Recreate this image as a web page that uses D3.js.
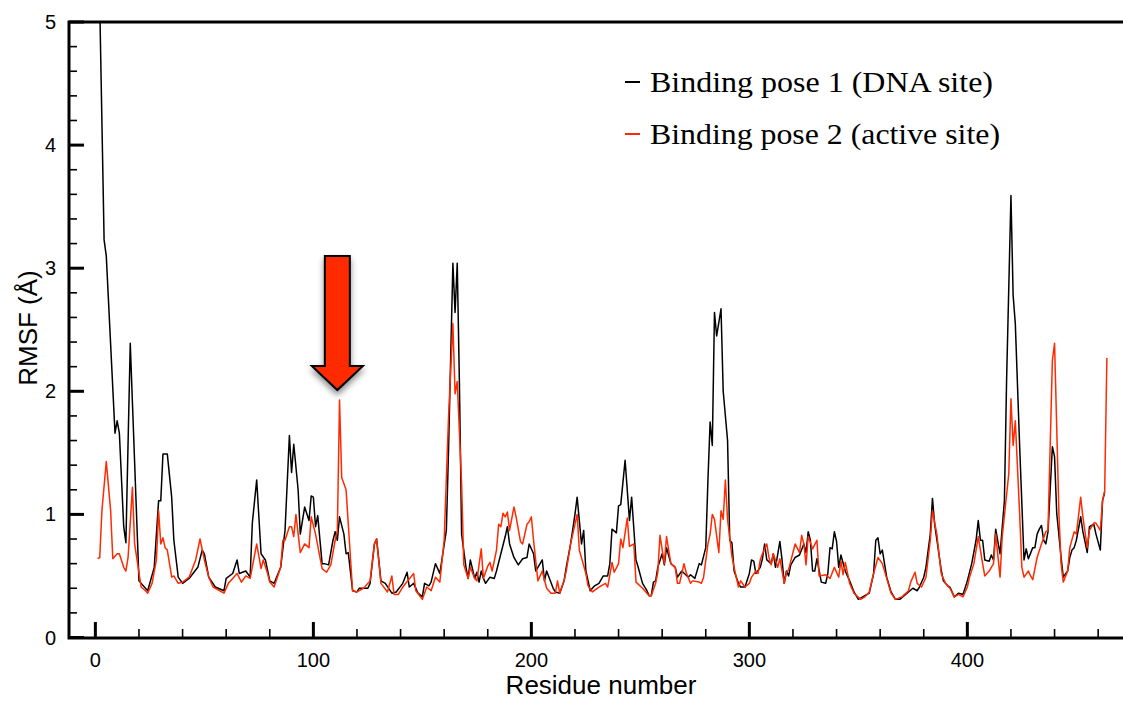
<!DOCTYPE html>
<html>
<head>
<meta charset="utf-8">
<script src="https://cdn.jsdelivr.net/npm/d3@7"></script>
<style>
  body { margin: 0; background: #fff; }
  svg { display: block; }
  .tickLabel { font-family: "Liberation Sans", Arial, sans-serif; font-size: 20px; fill: #000; }
  .axisTitle { font-family: "Liberation Sans", Arial, sans-serif; font-size: 26px; fill: #000; }
  .legendText { font-family: "Liberation Serif", "Times New Roman", serif; font-size: 29px; fill: #000; }
</style>
</head>
<body>
<div id="chart"></div>
<script>
// Residue numbers and RMSF values (Å)
var pose1Residue = [1,4,5,9,10,11,13,14,16,20,24,27,29,30,31,33,35,36,38,40,43,47,49,50,52,55,59,60,63,65,66,69,71,72,74,76,78,80,82,85,87,89,90,91,93,94,96,98,99,100,101,102,104,105,107,109,110,111,112,114,115,116,118,120,121,125,126,128,129,131,133,136,138,141,143,144,146,148,150,151,153,154,156,158,161,162,164,165,166,167,168,170,171,172,174,175,176,177,178,179,181,183,184,186,188,189,190,192,194,196,198,199,201,202,205,206,207,210,211,213,215,216,218,220,221,223,224,225,227,229,231,233,235,236,237,239,240,241,243,245,246,248,249,251,253,254,255,256,257,258,260,261,262,264,266,267,269,272,273,275,277,278,280,281,282,283,284,285,287,288,290,291,292,293,295,296,298,300,301,302,303,305,306,307,308,310,311,312,314,315,316,317,318,319,321,323,325,326,327,328,329,330,331,333,335,336,337,338,339,340,341,342,344,346,348,350,352,355,357,358,359,360,361,363,365,367,369,371,373,375,377,378,380,381,383,384,385,388,389,391,392,394,396,398,400,402,404,405,406,407,408,410,411,412,413,415,417,418,420,421,422,424,426,427,428,430,431,432,433,434,435,436,437,439,440,441,443,444,446,447,448,449,450,452,453,455,456,458,459,461,462,463];
var pose1Rmsf = [6.1,3.23,3.1,1.66,1.76,1.66,0.9,0.77,2.39,0.46,0.38,0.57,1.11,1.11,1.49,1.49,1.14,0.79,0.49,0.44,0.48,0.57,0.71,0.68,0.49,0.41,0.38,0.48,0.52,0.63,0.52,0.54,0.49,0.93,1.28,0.68,0.63,0.46,0.44,0.57,0.87,1.64,1.34,1.57,1.2,0.84,1.06,0.95,1.15,1.14,0.9,0.99,0.6,0.6,0.59,0.79,0.86,0.79,0.98,0.84,0.68,0.69,0.38,0.37,0.4,0.4,0.44,0.76,0.8,0.46,0.44,0.36,0.37,0.44,0.53,0.41,0.44,0.36,0.33,0.44,0.42,0.45,0.6,0.52,0.87,1.52,3.04,2.64,3.04,2.06,0.84,0.57,0.48,0.63,0.48,0.53,0.45,0.54,0.48,0.44,0.49,0.48,0.54,0.68,0.82,0.9,0.76,0.65,0.59,0.64,0.65,0.76,0.68,0.54,0.63,0.46,0.54,0.4,0.37,0.36,0.46,0.57,0.76,1.0,1.14,0.76,0.87,0.54,0.38,0.42,0.44,0.5,0.5,0.6,0.88,0.85,1.07,1.08,1.44,0.95,1.14,0.63,0.57,0.44,0.38,0.34,0.34,0.45,0.46,0.57,0.68,0.59,0.73,0.6,0.57,0.49,0.54,0.49,0.51,0.48,0.6,0.59,0.73,1.28,1.75,1.56,2.64,2.45,2.67,2.0,1.6,0.79,0.77,0.54,0.44,0.41,0.41,0.52,0.63,0.62,0.52,0.57,0.64,0.76,0.63,0.6,0.68,0.57,0.78,0.63,0.44,0.54,0.5,0.59,0.65,0.67,0.76,0.69,0.86,0.79,0.54,0.54,0.64,0.45,0.44,0.52,0.73,0.72,0.86,0.78,0.57,0.67,0.54,0.46,0.37,0.31,0.33,0.36,0.52,0.79,0.81,0.68,0.71,0.49,0.37,0.31,0.31,0.34,0.37,0.4,0.38,0.41,0.49,0.57,0.84,1.13,0.92,0.55,0.46,0.42,0.41,0.33,0.36,0.35,0.46,0.6,0.79,0.95,0.79,0.79,0.63,0.62,0.67,0.63,0.88,0.68,1.11,2.09,3.59,2.78,2.55,1.55,0.63,0.72,0.64,0.73,0.73,0.84,0.88,0.91,0.79,0.76,0.86,1.55,1.47,1.01,0.65,0.49,0.54,0.65,0.71,0.73,0.79,0.98,0.86,0.69,0.9,0.92,0.84,0.71,1.11,1.18];

var pose2Residue = [1,2,3,5,7,8,10,11,13,14,15,17,18,21,23,24,26,28,29,30,31,32,33,35,36,38,40,43,46,48,50,52,54,56,59,61,63,65,67,69,71,74,76,77,79,80,82,85,86,87,89,90,91,92,94,96,98,99,101,104,106,108,110,111,112,113,115,118,120,123,126,128,129,131,134,136,137,139,141,146,147,150,152,154,156,158,160,162,164,165,166,168,169,171,172,174,175,177,178,180,181,182,184,185,186,187,188,189,190,192,193,195,196,198,199,200,201,203,205,207,209,211,212,213,215,216,218,221,222,225,226,228,231,234,235,237,238,240,241,242,244,245,247,248,251,254,255,257,258,259,261,262,264,266,267,268,270,271,273,274,277,278,279,281,282,283,284,286,287,288,289,290,292,293,295,296,298,300,301,303,304,305,306,308,309,310,311,313,314,316,317,318,319,321,323,324,325,326,327,329,331,332,335,337,339,341,342,343,344,346,348,351,353,355,357,359,361,363,365,367,370,373,374,376,377,379,381,383,384,386,388,390,392,394,396,398,400,401,403,405,407,408,410,412,413,415,416,419,420,421,422,424,425,426,428,429,430,432,434,436,437,439,440,442,443,444,446,447,449,450,452,453,455,456,458,459,461,462,463,464];
var pose2Rmsf = [0.64,0.65,1.03,1.43,1.03,0.64,0.68,0.68,0.57,0.54,0.65,1.22,0.76,0.41,0.38,0.36,0.44,0.63,1.03,0.76,0.81,0.73,0.71,0.49,0.5,0.44,0.45,0.49,0.63,0.8,0.63,0.49,0.41,0.39,0.36,0.44,0.48,0.52,0.45,0.5,0.48,0.76,0.56,0.63,0.52,0.45,0.41,0.57,0.79,0.79,0.9,0.9,0.82,1.0,0.69,0.76,0.73,0.98,0.84,0.56,0.53,0.59,0.79,0.87,1.93,1.3,1.2,0.38,0.37,0.4,0.46,0.76,0.8,0.44,0.37,0.5,0.35,0.35,0.41,0.52,0.38,0.31,0.41,0.38,0.49,0.45,0.79,1.79,2.55,1.98,2.08,1.25,0.59,0.48,0.57,0.48,0.46,0.72,0.48,0.58,0.61,0.54,0.71,0.92,0.9,1.01,0.98,1.02,0.87,1.06,0.98,0.78,0.76,0.92,0.94,0.98,0.79,0.46,0.54,0.4,0.36,0.36,0.46,0.36,0.46,0.54,0.76,1.0,0.71,0.52,0.42,0.37,0.41,0.44,0.41,0.61,0.53,0.6,0.8,0.73,0.97,0.74,0.76,0.45,0.4,0.34,0.34,0.44,0.53,0.83,0.6,0.82,0.6,0.57,0.44,0.44,0.6,0.53,0.44,0.46,0.45,0.44,0.49,0.76,0.84,1.0,0.96,0.69,1.03,0.96,1.28,0.96,0.66,0.57,0.41,0.46,0.41,0.44,0.49,0.54,0.52,0.63,0.68,0.76,0.65,0.59,0.68,0.57,0.64,0.44,0.53,0.55,0.62,0.76,0.69,0.83,0.76,0.59,0.82,0.72,0.79,0.5,0.51,0.48,0.57,0.49,0.62,0.51,0.61,0.44,0.36,0.31,0.33,0.37,0.52,0.65,0.6,0.48,0.36,0.31,0.33,0.38,0.45,0.53,0.44,0.41,0.49,0.79,1.03,0.84,0.52,0.44,0.4,0.33,0.35,0.33,0.41,0.49,0.6,0.82,0.6,0.5,0.54,0.6,0.84,0.49,0.82,1.33,1.94,1.56,1.76,1.0,0.57,0.49,0.54,0.5,0.47,0.65,0.76,0.86,0.87,2.25,2.39,1.01,0.6,0.45,0.54,0.73,0.86,0.84,1.14,0.98,0.73,0.87,0.93,0.93,0.87,1.11,1.19,2.27];

var xMajorTicks = [0, 100, 200, 300, 400];
var yMajorTicks = [0, 1, 2, 3, 4, 5];
var legendLabels = ["Binding pose 1 (DNA site)", "Binding pose 2 (active site)"];
var legendWidths = [343, 350];
var seriesColors = ["#000000", "#ff2a00"];

// arrow annotation (residue, RMSF of tip and of shaft top)
var arrowResidue = 111;
var arrowTipRmsf = 2.01;
var arrowTopRmsf = 3.1;

var svgWidth = 1123;
var svgHeight = 702;

var svg = d3.select("#chart").append("svg")
    .attr("width", svgWidth)
    .attr("height", svgHeight);

var frame = { left: 69, right: 1123, top: 22, bottom: 638 };

var xScale = d3.scaleLinear().domain([-12.1, 471.4]).range([frame.left, frame.right]);
var yScale = d3.scaleLinear().domain([0, 5]).range([637.5, 22]);

// minor ticks
var xMinor = d3.range(20, 471, 20).filter(d => d % 100 !== 0);
var yMinor = d3.range(0.2, 5, 0.2).filter(d => Math.abs(d - Math.round(d)) > 0.01);

var defs = svg.append("defs");
defs.append("clipPath").attr("id", "plotClip")
  .append("rect")
    .attr("x", frame.left)
    .attr("y", frame.top)
    .attr("width", frame.right - frame.left)
    .attr("height", frame.bottom - frame.top);

var shadow = defs.append("filter").attr("id", "arrowShadow")
    .attr("x", "-50%").attr("y", "-20%").attr("width", "200%").attr("height", "150%");
shadow.append("feDropShadow")
    .attr("dx", 0).attr("dy", 4)
    .attr("stdDeviation", 3)
    .attr("flood-color", "#000")
    .attr("flood-opacity", 0.45);

// lines
var plot = svg.append("g").attr("clip-path", "url(#plotClip)");
var line = d3.line()
    .x(d => xScale(d[0]))
    .y(d => yScale(d[1]));

var series = [
    d3.zip(pose1Residue, pose1Rmsf),
    d3.zip(pose2Residue, pose2Rmsf)
];

plot.selectAll("path.series")
    .data(series)
    .enter()
    .append("path")
    .attr("class", "series")
    .attr("d", line)
    .attr("fill", "none")
    .attr("stroke", (d, i) => seriesColors[i])
    .attr("stroke-width", 1.5)
    .attr("stroke-linejoin", "round");

// ticks (pointing inward)
var ticks = svg.append("g").attr("stroke", "#000");
ticks.selectAll("line.xmaj").data(xMajorTicks).enter().append("line")
    .attr("x1", d => xScale(d)).attr("x2", d => xScale(d))
    .attr("y1", frame.bottom).attr("y2", frame.bottom - 16)
    .attr("stroke-width", 3);
ticks.selectAll("line.xmin").data(xMinor).enter().append("line")
    .attr("x1", d => xScale(d)).attr("x2", d => xScale(d))
    .attr("y1", frame.bottom).attr("y2", frame.bottom - 9)
    .attr("stroke-width", 1.6);
ticks.selectAll("line.ymaj").data(yMajorTicks).enter().append("line")
    .attr("x1", frame.left).attr("x2", frame.left + 15)
    .attr("y1", d => yScale(d)).attr("y2", d => yScale(d))
    .attr("stroke-width", 3);
ticks.selectAll("line.ymin").data(yMinor).enter().append("line")
    .attr("x1", frame.left).attr("x2", frame.left + 8)
    .attr("y1", d => yScale(d)).attr("y2", d => yScale(d))
    .attr("stroke-width", 1.6);

// frame: left, bottom and top lines
svg.append("path")
    .attr("d", `M${frame.right},${frame.top}H${frame.left}V${frame.bottom}H${frame.right}`)
    .attr("fill", "none")
    .attr("stroke", "#000")
    .attr("stroke-width", 3);

// tick labels
svg.selectAll("text.xlab").data(xMajorTicks).enter().append("text")
    .attr("class", "tickLabel")
    .attr("x", d => xScale(d))
    .attr("y", 667)
    .attr("text-anchor", "middle")
    .text(d => d);

svg.selectAll("text.ylab").data(yMajorTicks).enter().append("text")
    .attr("class", "tickLabel")
    .attr("x", 56)
    .attr("y", d => yScale(d))
    .attr("dy", "0.35em")
    .attr("text-anchor", "end")
    .text(d => d);

// axis titles
svg.append("text")
    .attr("class", "axisTitle")
    .attr("x", 601)
    .attr("y", 694)
    .attr("text-anchor", "middle")
    .text("Residue number");

svg.append("text")
    .attr("class", "axisTitle")
    .attr("transform", "translate(37, 328) rotate(-90)")
    .attr("text-anchor", "middle")
    .text("RMSF (Å)");

// legend
var legend = svg.append("g").attr("transform", "translate(625, 0)");
legendLabels.forEach(function (label, i) {
    var yPos = 82 + i * 52;
    legend.append("line")
        .attr("x1", 0).attr("x2", 15)
        .attr("y1", yPos).attr("y2", yPos)
        .attr("stroke", seriesColors[i])
        .attr("stroke-width", 2);
    legend.append("text")
        .attr("class", "legendText")
        .attr("x", 25)
        .attr("y", yPos + 10)
        .attr("textLength", legendWidths[i])
        .attr("lengthAdjust", "spacingAndGlyphs")
        .text(label);
});

// red arrow pointing at the pose 2 peak
var ax = xScale(arrowResidue);
var tipY = yScale(arrowTipRmsf);
var topY = yScale(arrowTopRmsf);
var shaftHalf = 12.5;
var headHalf = 25.5;
var headLen = 24;
var arrowPath = d3.path();
arrowPath.moveTo(ax - shaftHalf, topY);
arrowPath.lineTo(ax + shaftHalf, topY);
arrowPath.lineTo(ax + shaftHalf, tipY - headLen);
arrowPath.lineTo(ax + headHalf, tipY - headLen);
arrowPath.lineTo(ax, tipY);
arrowPath.lineTo(ax - headHalf, tipY - headLen);
arrowPath.lineTo(ax - shaftHalf, tipY - headLen);
arrowPath.closePath();

svg.append("path")
    .attr("d", arrowPath.toString())
    .attr("fill", "#ff2a00")
    .attr("stroke", "#000")
    .attr("stroke-width", 2)
    .attr("stroke-linejoin", "miter")
    .attr("filter", "url(#arrowShadow)");
</script>
</body>
</html>
